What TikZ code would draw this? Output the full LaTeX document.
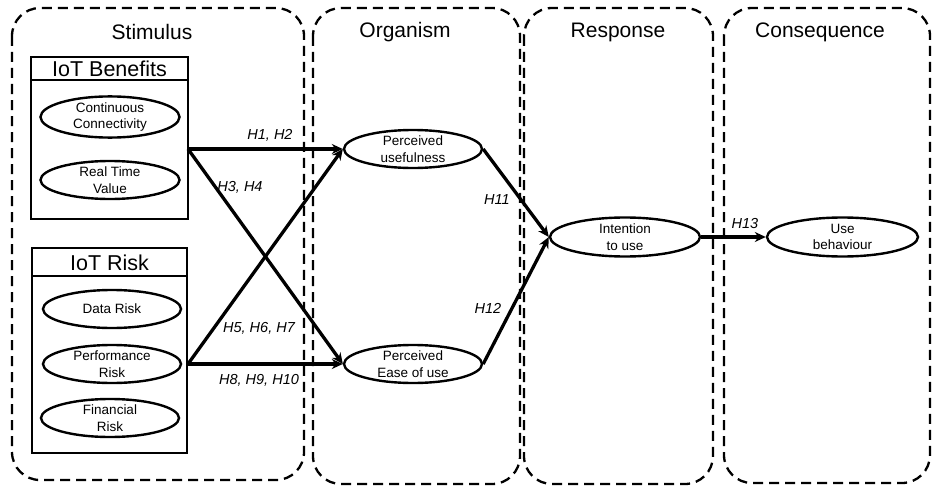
\documentclass[tikz,border=0pt]{standalone}
\usepackage{fontspec}
\setmainfont{Liberation Sans}
\usetikzlibrary{shapes.geometric,arrows.meta}
\begin{document}
\begin{tikzpicture}[x=1pt,y=-1pt,
 panel/.style={draw, line width=2.3pt, dash pattern=on 10pt off 6pt, rounded corners=28pt},
 ptitle/.style={font=\fontsize{21}{24}\selectfont},
 grp/.style={draw, line width=2.8pt, rectangle, inner sep=0pt},
 gtitle/.style={font=\fontsize{21.5}{24}\selectfont},
 ell/.style={draw, ellipse, line width=2.4pt, inner sep=0pt, align=center, font=\fontsize{13.5}{16.5}\selectfont},
 hyp/.style={font=\itshape\fontsize{14.5}{16}\selectfont},
 arr/.style={line width=3.3pt, -{Stealth[length=11pt,width=10pt]}}]
\fill[white] (0,0) rectangle (932,487);
\useasboundingbox (0,0) rectangle (932,487);
% panels
\draw[panel] (12,8) rectangle (304,480);
\draw[panel] (313,8) rectangle (520,484);
\draw[panel] (524,8) rectangle (713,484);
\draw[panel] (724,8) rectangle (930,483);
\node[ptitle] (tstim) at (152,32) {Stimulus};
\node[ptitle] (torg) at (405,32) {Organism};
\node[ptitle] (tresp) at (618,32) {Response};
\node[ptitle] (tcons) at (820,32) {Consequence};
% IoT Benefits
\node[grp, minimum width=157, minimum height=162] (ben) at (109.5,138) {};
\draw[line width=2.8pt] (31,80) -- (188,80);
\node[gtitle] (tben) at (109.5,69) {IoT Benefits};
\node[ell, minimum width=139, minimum height=38] (cc) at (110,117) {Continuous\\Connectivity};
\node[ell, minimum width=139, minimum height=38] (rtv) at (110,180) {Real Time\\Value};
% IoT Risk
\node[grp, minimum width=155, minimum height=205] (risk) at (109.5,350.5) {};
\draw[line width=2.8pt] (32,276) -- (187,276);
\node[gtitle] (trisk) at (109.5,262.5) {IoT Risk};
\node[ell, minimum width=138, minimum height=38] (dr) at (112,309) {Data Risk};
\node[ell, minimum width=138, minimum height=38] (pr) at (112,364) {Performance\\Risk};
\node[ell, minimum width=138, minimum height=38] (fr) at (110,418) {Financial\\Risk};
% organism etc
\node[ell, minimum width=138, minimum height=38] (pu) at (413,149) {Perceived\\usefulness};
\node[ell, minimum width=138, minimum height=38] (peou) at (413,364) {Perceived\\Ease of use};
\node[ell, minimum width=150, minimum height=39] (iu) at (625,237) {Intention\\to use};
\node[ell, minimum width=151, minimum height=39] (ub) at (842.5,237) {Use\\behaviour};
% connectors
\coordinate (benout) at (188,149);
\coordinate (riskout) at (188,364);
\draw[arr] (benout) -- (pu.west);
\draw[arr] (benout) -- (peou.west);
\draw[arr] (riskout) -- (pu.west);
\draw[arr] (riskout) -- (peou.west);
\draw[arr] (pu.east) -- (iu.west);
\draw[arr] (peou.east) -- (iu.west);
\draw[arr] (iu.east) -- (ub.west);
% labels
\node[hyp] (h12) at (270,135) {H1, H2};
\node[hyp] (h34) at (240,187) {H3, H4};
\node[hyp] (h567) at (259,328) {H5, H6, H7};
\node[hyp] (h8910) at (259,380) {H8, H9, H10};
\node[hyp] (h11) at (497,200) {H11};
\node[hyp] (h12b) at (488,308) {H12};
\node[hyp] (h13) at (745,224) {H13};
\end{tikzpicture}
\end{document}
